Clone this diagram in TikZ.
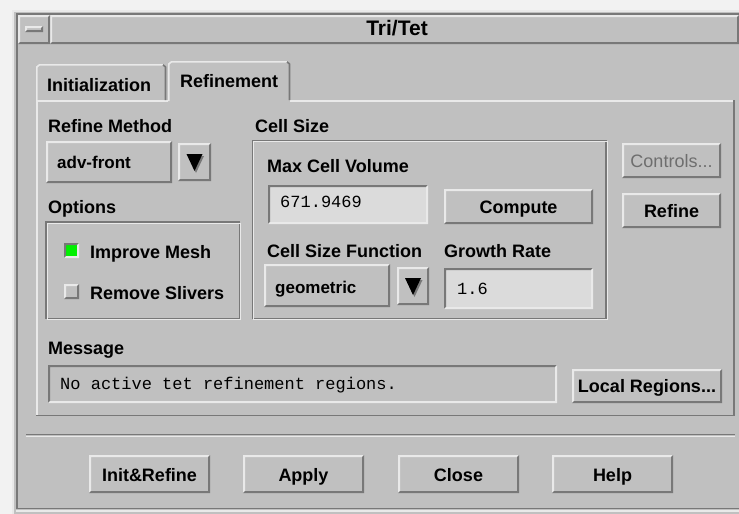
\documentclass[tikz,border=0pt]{standalone}
\usepackage{fontspec}
\setmainfont{Liberation Sans}
\newfontfamily\monof{Liberation Mono}
\definecolor{bg}{HTML}{C0C0C0}
\definecolor{hl}{HTML}{E9E9E9}
\definecolor{sh}{HTML}{787878}
\definecolor{fld}{HTML}{DBDBDB}
\definecolor{outer}{HTML}{F2F2F2}
\definecolor{grn}{HTML}{00F000}
\definecolor{dimtxt}{HTML}{6E6E6E}
% bevelled box: x1 y1 x2 y2 fill topleft bottomright
\newcommand\guibev[7]{%
 \fill[#5] (#1,#2) rectangle (#3,#4);
 \fill[#6] (#1,#2) -- (#3,#2) -- (#3-2,#2+2) -- (#1+2,#2+2) -- (#1+2,#4-2) -- (#1,#4) -- cycle;
 \fill[#7] (#3,#4) -- (#1,#4) -- (#1+2,#4-2) -- (#3-2,#4-2) -- (#3-2,#2+2) -- (#3,#2) -- cycle;}
\newcommand\guiup[4]{\guibev{#1}{#2}{#3}{#4}{bg}{hl}{sh}}
\newcommand\guidn[5]{\guibev{#1}{#2}{#3}{#4}{#5}{sh}{hl}}
\newcommand\guietch[4]{%
 \draw[sh,line width=1.1pt] (#1,#2) rectangle (#3,#4);
 \draw[hl,line width=1.1pt] (#1+1.3,#2+1.3) rectangle (#3+1.3,#4+1.3);}
\newcommand\guiarrow[4]{% x1 y1 x2 y2 of arrow button
 \guiup{#1}{#2}{#3}{#4}
 \fill[sh] ({(#1+#3)/2-6.5},{(#2+#4)/2-6}) -- ({(#1+#3)/2+9.5},{(#2+#4)/2-6}) -- ({(#1+#3)/2+1.5},{(#2+#4)/2+11}) -- cycle;
 \fill[black] ({(#1+#3)/2-8},{(#2+#4)/2-8}) -- ({(#1+#3)/2+8},{(#2+#4)/2-8}) -- ({(#1+#3)/2},{(#2+#4)/2+9}) -- cycle;}
\begin{document}
\begin{tikzpicture}[x=1pt,y=-1pt,
  lbl/.style={font=\bfseries\fontsize{18}{20}\selectfont, inner sep=0pt, anchor=base west, text=black},
  btn/.style={font=\bfseries\fontsize{18}{20}\selectfont, inner sep=0pt, anchor=base, text=black},
  mono/.style={font=\monof\fontsize{17}{20}\selectfont, inner sep=0pt, anchor=base west, text=black}]
\useasboundingbox (0,0) rectangle (739,514);
\fill[outer] (0,0) rectangle (739,514);
% window
\fill[bg] (12,10) rectangle (739,514);
\draw[hl,line width=2pt] (13,514) -- (13,11) -- (739,11);
\draw[sh,line width=1.5pt] (16.8,509) -- (16.8,13.8) -- (739,13.8);
\draw[sh,line width=1.5pt] (16,508.5) -- (739,508.5);
\draw[hl,line width=1.5pt] (16,511) -- (739,511);
% title bar
\guiup{50}{15}{739}{44}
\guiup{18}{15}{50}{44}
\guiup{25}{26}{43}{32}
\node[font=\bfseries\fontsize{21}{22}\selectfont, inner sep=0pt, anchor=base] (title) at (397,35) {Tri/Tet};
% tab folder panel
\draw[hl,line width=1.6pt] (36.8,416) -- (36.8,100.8) -- (168,100.8);
\draw[hl,line width=1.6pt] (290,100.8) -- (734,100.8);
\draw[sh,line width=1.6pt] (734,100) -- (734,415.5) -- (36,415.5);
% Initialization tab
\draw[hl,line width=1.6pt] (36.8,100) -- (36.8,67) -- (39.5,64.8) -- (163,64.8);
\draw[sh,line width=1.6pt] (163,64.8) -- (165.5,67) -- (165.5,100);
% Refinement tab
\draw[hl,line width=1.6pt] (168.8,101) -- (168.8,64) -- (171.5,61.8) -- (287,61.8);
\draw[sh,line width=1.6pt] (287,61.8) -- (289.5,64) -- (289.5,100);
\node[lbl] (tabinit) at (47,91) {Initialization};
\node[lbl] (tabref) at (180,87) {Refinement};
% Refine method
\node[lbl] (refmeth) at (48,132) {Refine Method};
\guiup{46}{141}{172}{183}
\node[lbl,font=\bfseries\fontsize{17}{20}\selectfont] (advfront) at (57,168) {adv-front};
\guiarrow{178}{143}{211}{181}
% Options
\node[lbl] (options) at (48,213) {Options};
\guietch{46}{222}{239.5}{318.5}
\guibev{64}{243}{79}{258}{grn}{sh}{hl}
\node[lbl] (improve) at (90,258) {Improve Mesh};
\guiup{64}{284}{79}{299}
\node[lbl] (slivers) at (90,299) {Remove Slivers};
% Cell size
\node[lbl] (cellsize) at (255,132) {Cell Size};
\guietch{252.5}{140.5}{606}{318.5}
\node[lbl] (maxvol) at (267,172) {Max Cell Volume};
\guidn{268}{185}{428}{224}{fld}
\node[mono] (volval) at (280,207) {671.9469};
\guiup{444}{189}{593}{224}
\node[btn] (compute) at (518.5,213) {Compute};
\node[lbl] (csf) at (267,257) {Cell Size Function};
\guiup{264}{264}{390}{307}
\node[lbl,font=\bfseries\fontsize{17}{20}\selectfont] (geom) at (275,293) {geometric};
\guiarrow{397}{267}{429}{305}
\node[lbl] (growth) at (444,257) {Growth Rate};
\guidn{444}{268}{593}{309}{fld}
\node[mono] (growval) at (457,294) {1.6};
% right buttons
\guiup{622}{143}{721}{178}
\node[btn,font=\fontsize{18}{20}\selectfont,text=dimtxt] (controls) at (671.5,167) {Controls...};
\guiup{622}{193}{721}{228}
\node[btn] (refinebtn) at (671.5,217) {Refine};
% message
\node[lbl] (message) at (48,354) {Message};
\guidn{48}{365}{557}{403}{bg}
\node[mono] (msgtxt) at (60,389) {No active tet refinement regions.};
\guiup{572}{369}{722}{403}
\node[btn] (local) at (647,392) {Local Regions...};
% separator
\draw[sh,line width=1.2pt] (26,434.5) -- (735,434.5);
\draw[hl,line width=1.2pt] (26,436.2) -- (735,436.2);
% bottom buttons
\guiup{89}{455}{210}{493}
\node[btn] (initref) at (149.5,481) {Init\&Refine};
\guiup{243}{455}{364}{493}
\node[btn] (apply) at (303.5,481) {Apply};
\guiup{398}{455}{519}{493}
\node[btn] (close) at (458.5,481) {Close};
\guiup{552}{455}{673}{493}
\node[btn] (help) at (612.5,481) {Help};
\end{tikzpicture}
\end{document}
